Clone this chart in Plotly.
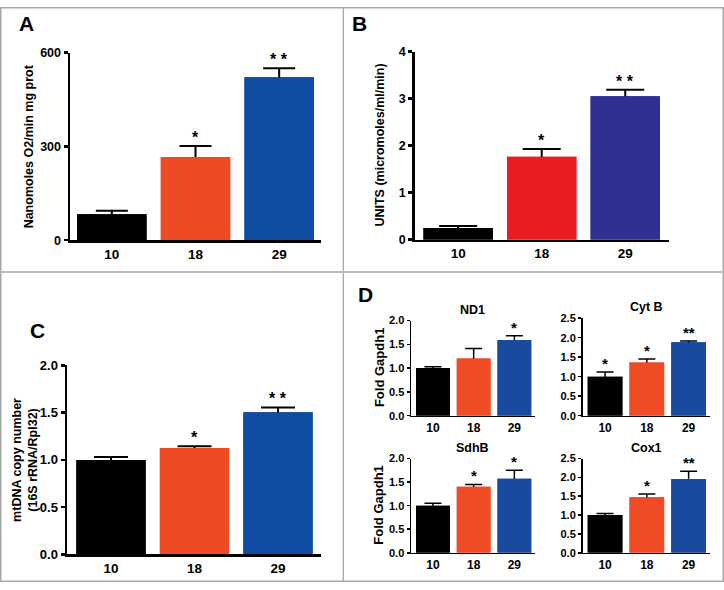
import plotly.graph_objects as go

W, H = 724, 590

# ---------------- data ----------------
ages = ["10", "18", "29"]

a_vals = [83, 266, 521]
a_err = [11, 35, 29]
a_stars = ["", "*", "* *"]

b_vals = [0.25, 1.76, 3.05]
b_err = [0.04, 0.17, 0.14]
b_stars = ["", "*", "* *"]

c_vals = [1.0, 1.125, 1.505]
c_err = [0.03, 0.02, 0.05]
c_stars = ["", "*", "* *"]

nd1_vals = [1.0, 1.2, 1.59]
nd1_err = [0.03, 0.21, 0.09]
nd1_stars = ["", "", "*"]

cytb_vals = [1.0, 1.365, 1.88]
cytb_err = [0.12, 0.09, 0.035]
cytb_stars = ["*", "*", "**"]

sdhb_vals = [1.0, 1.40, 1.57]
sdhb_err = [0.05, 0.05, 0.18]
sdhb_stars = ["", "*", "*"]

cox1_vals = [1.0, 1.47, 1.96]
cox1_err = [0.04, 0.09, 0.20]
cox1_stars = ["", "*", "**"]

colors_a = ["#000000", "#EE4B25", "#0F4DA2"]
colors_b = ["#000000", "#EC1C24", "#2E3192"]
colors_d = ["#000000", "#EF4B24", "#1A4A9E"]

FONT = "Liberation Sans, Arial, sans-serif"


def fx(px):
    return px / W


def fy(py):
    return 1 - py / H


panels = [
    dict(vals=a_vals, err=a_err, stars=a_stars, colors=colors_a,
         x0=70, x1=321, ytop=46.7, ybot=239.3, yr=[0, 600], dtick=300, fmt="d",
         xr=[-0.5, 2.5], lw=2.5, ytf=12.5, xtf=13.5, cap=16, th=2, star=16, tl=4,
         ytitle="Nanomoles O2/min mg prot", ytx=29, yts=12.5, title=None),
    dict(vals=b_vals, err=b_err, stars=b_stars, colors=colors_b,
         x0=414.7, x1=668.7, ytop=45.7, ybot=238.7, yr=[0, 4], dtick=1, fmt="d",
         xr=[-0.52, 2.52], lw=2.5, ytf=12.5, xtf=13.5, cap=19, th=2, star=16, tl=4,
         ytitle="UNITS (micromoles/ml/min)", ytx=380, yts=12.5, title=None),
    dict(vals=c_vals, err=c_err, stars=c_stars, colors=colors_a,
         x0=67, x1=321, ytop=367.7, ybot=561.7, yr=[0, 2], dtick=0.5, fmt=".1f",
         xr=[-0.527, 2.515], lw=2.5, ytf=13, xtf=13.5, cap=17, th=2, star=16, tl=4,
         ytitle="mtDNA copy number<br>(16S rRNA/Rpl32)", ytx=25, yts=12.5, title=None),
    dict(vals=nd1_vals, err=nd1_err, stars=nd1_stars, colors=colors_d,
         x0=411, x1=534.7, ytop=321.7, ybot=419.3, yr=[0, 2], dtick=0.5, fmt=".1f",
         xr=[-0.54, 2.5], lw=1.5, ytf=11, xtf=12, cap=8.5, th=1.5, star=15, tl=3,
         ytitle="Fold Gapdh1", ytx=379, yts=13, title="ND1"),
    dict(vals=cytb_vals, err=cytb_err, stars=cytb_stars, colors=colors_d,
         x0=582.5, x1=709.5, ytop=319.3, ybot=419.3, yr=[0, 2.5], dtick=0.5, fmt=".1f",
         xr=[-0.54, 2.5], lw=1.5, ytf=11, xtf=12, cap=8.5, th=1.5, star=15, tl=3,
         ytitle=None, title="Cyt B"),
    dict(vals=sdhb_vals, err=sdhb_err, stars=sdhb_stars, colors=colors_d,
         x0=411, x1=534.7, ytop=463.3, ybot=560, yr=[0, 2], dtick=0.5, fmt=".1f",
         xr=[-0.54, 2.5], lw=1.5, ytf=11, xtf=12, cap=8.5, th=1.5, star=15, tl=3,
         ytitle="Fold Gapdh1", ytx=379, yts=13, title="SdhB"),
    dict(vals=cox1_vals, err=cox1_err, stars=cox1_stars, colors=colors_d,
         x0=582.5, x1=709.5, ytop=463.3, ybot=560, yr=[0, 2.5], dtick=0.5, fmt=".1f",
         xr=[-0.54, 2.5], lw=1.5, ytf=11, xtf=12, cap=8.5, th=1.5, star=15, tl=3,
         ytitle=None, title="Cox1"),
]

fig = go.Figure()
annotations = []
layout = {}

for i, p in enumerate(panels):
    n = "" if i == 0 else str(i + 1)
    xa, ya = "x" + n, "y" + n
    # bars with error bars (upper part visible)
    fig.add_trace(go.Bar(
        x=ages, y=p["vals"], xaxis=xa, yaxis=ya, width=0.83,
        marker=dict(color=p["colors"], line=dict(width=0)),
        error_y=dict(type="data", array=p["err"], symmetric=True,
                     color="black", thickness=p["th"], width=p["cap"]),
        showlegend=False, hoverinfo="skip"))
    # same bars again, hiding the lower half of the error bars
    fig.add_trace(go.Bar(
        x=ages, y=p["vals"], xaxis=xa, yaxis=ya, width=0.83,
        marker=dict(color=p["colors"], line=dict(width=0)),
        showlegend=False, hoverinfo="skip"))

    layout["xaxis" + n] = dict(
        domain=[fx(p["x0"]), fx(p["x1"])], anchor=ya, type="category",
        range=p["xr"], showline=True, linecolor="black", linewidth=p["lw"],
        ticks="", showgrid=False, zeroline=False, fixedrange=True,
        tickfont=dict(family=FONT, size=p["xtf"], color="black", weight="bold"))
    layout["yaxis" + n] = dict(
        domain=[fy(p["ybot"]), fy(p["ytop"])], anchor=xa,
        range=p["yr"], dtick=p["dtick"], tick0=0, tickformat=p["fmt"],
        showline=True, linecolor="black", linewidth=p["lw"],
        ticks="outside", ticklen=p["tl"], tickwidth=p["lw"], tickcolor="black",
        showgrid=False, zeroline=False, fixedrange=True,
        tickfont=dict(family=FONT, size=p["ytf"], color="black", weight="bold"))

    # significance stars (x given as category index)
    for k, (v, e, s) in enumerate(zip(p["vals"], p["err"], p["stars"])):
        if s:
            annotations.append(dict(
                x=k, y=v + e, xref=xa, yref=ya, text=s, showarrow=False,
                yanchor="bottom", xanchor="center", yshift=-2,
                font=dict(family=FONT, size=p["star"], color="black", weight="bold")))

    # y-axis title
    if p["ytitle"]:
        annotations.append(dict(
            x=fx(p["ytx"]), y=fy((p["ytop"] + p["ybot"]) / 2), xref="paper", yref="paper",
            text=p["ytitle"], textangle=-90, showarrow=False,
            xanchor="center", yanchor="middle",
            font=dict(family=FONT, size=p["yts"], color="black", weight="bold")))

    # subplot title
    if p["title"]:
        annotations.append(dict(
            x=fx((p["x0"] + p["x1"]) / 2), y=fy(p["ytop"] - 11), xref="paper", yref="paper",
            text=p["title"], showarrow=False, xanchor="center", yanchor="middle",
            font=dict(family=FONT, size=12.5, color="black", weight="bold")))

# panel letters
for letter, lx, ly in [("A", 26, 16.5), ("B", 359.5, 17), ("C", 37.5, 331.7), ("D", 365, 295)]:
    annotations.append(dict(
        x=fx(lx), y=fy(ly), xref="paper", yref="paper", text=letter, showarrow=False,
        xanchor="center", yanchor="middle",
        font=dict(family=FONT, size=21, color="black", weight="bold")))

shapes = [
    dict(type="rect", xref="paper", yref="paper", x0=fx(0.75), x1=fx(723.25),
         y0=fy(589.25), y1=fy(0.75), line=dict(color="#A8A8A8", width=1.5)),
    dict(type="line", xref="paper", yref="paper", x0=fx(343.3), x1=fx(343.3),
         y0=fy(590), y1=fy(0), line=dict(color="#A0A0A0", width=1.2)),
    dict(type="line", xref="paper", yref="paper", x0=fx(0), x1=fx(724),
         y0=fy(272), y1=fy(272), line=dict(color="#BDBDBD", width=2)),
]

fig.update_layout(
    width=W, height=H, autosize=False,
    margin=dict(l=0, r=0, t=0, b=0, pad=0),
    paper_bgcolor="white", plot_bgcolor="white",
    barmode="overlay", showlegend=False,
    annotations=annotations, shapes=shapes,
    font=dict(family=FONT, color="black"),
    **layout)

fig.write_html("out.html",
               config={"displayModeBar": False, "staticPlot": True},
               post_script="document.body.style.margin='0px';"
                           "document.body.style.overflow='hidden';")
